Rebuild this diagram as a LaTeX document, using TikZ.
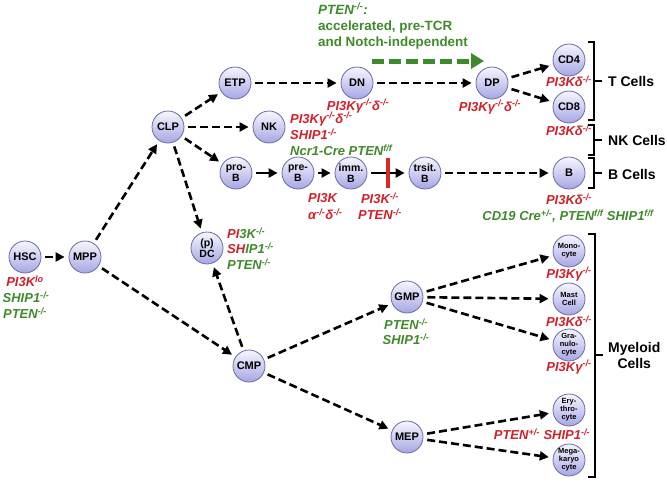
\documentclass[tikz,border=0pt]{standalone}
\usepackage{fontspec}
\setmainfont{Liberation Sans}
\usetikzlibrary{positioning, arrows.meta}

\definecolor{kored}{HTML}{D0202A}
\definecolor{kogreen}{HTML}{3F8A2A}
\definecolor{cellrim}{HTML}{6A6AA6}
\definecolor{celltop}{HTML}{F6F6FF}
\definecolor{cellbot}{HTML}{A6A6E4}

\newcommand{\ko}{\textsuperscript{-/-}}
\newcommand{\fsz}[1]{\fontsize{#1}{#1}\selectfont}

\tikzset{
  cell/.style={circle, draw=cellrim, line width=0.8pt, top color=celltop, bottom color=cellbot,
    minimum size=32pt, inner sep=0pt, font=\fsz{11}\bfseries, align=center},
  twoline/.style={cell, font=\fontsize{10.5}{10.5}\selectfont\bfseries},
  smallcell/.style={cell, font=\fontsize{7.5}{8}\selectfont\bfseries},
  redlab/.style={text=kored, font=\fontsize{13}{15}\selectfont\bfseries\itshape, inner sep=0pt, align=center},
  greenlab/.style={redlab, text=kogreen},
  flow/.style={-{Triangle[length=9pt,width=9pt]}, line width=2.6pt, dash pattern=on 8pt off 4pt,
    shorten <=4pt, shorten >=4pt},
  flowsolid/.style={flow, solid},
  groupline/.style={line width=1.8pt},
  celltype/.style={font=\fontsize{14}{16}\selectfont\bfseries, anchor=west, align=center, inner sep=0pt},
}

\begin{document}
\begin{tikzpicture}[x=1pt, y=-1pt]
    \useasboundingbox (0,0) rectangle (667,482);

    % Define nodes
    \node[cell] (HSC) at (25,257) {HSC};
    \node[cell] (MPP) at (85,257) {MPP};
    \node[cell] (CLP) at (168,127) {CLP};
    \node[cell] (ETP) at (235,83) {ETP};
    \node[cell] (NK) at (269,127) {NK};
    \node[twoline] (proB) at (236,173) {pro-\\B};
    \node[twoline] (preB) at (298,173) {pre-\\B};
    \node[twoline] (immB) at (351,173) {imm.\\B};
    \node[twoline] (trsB) at (425,173) {trsit.\\B};
    \node[cell] (B) at (569,173) {B};
    \node[cell] (DN) at (357,83) {DN};
    \node[cell] (DP) at (492,83) {DP};
    \node[cell] (CD4) at (569,60) {CD4};
    \node[cell] (CD8) at (569,107) {CD8};
    \node[twoline] (DC) at (207,248) {(p)\\DC};
    \node[cell] (CMP) at (249,366) {CMP};
    \node[cell] (GMP) at (407,297) {GMP};
    \node[cell] (MEP) at (407,437) {MEP};
    \node[smallcell] (Mono) at (569,251) {Mono-\\cyte};
    \node[smallcell] (Mast) at (569,299) {Mast\\Cell};
    \node[smallcell] (Gran) at (569,345) {Gra-\\nulo-\\cyte};
    \node[smallcell] (Ery) at (569,410) {Ery-\\thro-\\cyte};
    \node[smallcell] (Mega) at (569,460) {Mega-\\karyo\\cyte};

    % Labels
    \node[redlab] (hscA) at (25,281) {PI3K\textsuperscript{lo}};
    \node[greenlab] (hscB) at (26,297) {SHIP1\ko};
    \node[greenlab] (hscC) at (25,313) {PTEN\ko};
    \node[redlab, anchor=west] (dcA) at (227,233) {PI\textcolor{kogreen}{3K\ko}};
    \node[redlab, anchor=west] (dcB) at (227,248) {SH\textcolor{kogreen}{IP1\ko}};
    \node[greenlab, anchor=west] (dcC) at (227,264) {PTEN\ko};
    \node[redlab] (dnA) at (358,106) {PI3Kγ\ko δ\ko};
    \node[redlab, anchor=west] (nkA) at (290,119) {PI3Kγ\ko δ\ko};
    \node[redlab, anchor=west] (nkB) at (290,134) {SHIP1\ko};
    \node[greenlab, anchor=west] (nkC) at (290,150) {Ncr1-Cre PTEN\textsuperscript{f/f}};
    \node[redlab] (dpA) at (490,107) {PI3Kγ\ko δ\ko};
    \node[redlab] (cdA) at (569,81) {PI3Kδ\ko};
    \node[redlab] (cdB) at (569,130) {PI3Kδ\ko};
    \node[redlab, anchor=west] (bA) at (308,198) {PI3K};
    \node[redlab, anchor=west] (bB) at (308,214) {α\ko δ\ko};
    \node[redlab] (blkA) at (380,198) {PI3K\ko};
    \node[redlab] (blkB) at (380,214) {PTEN\ko};
    \node[redlab] (bcA) at (569,199) {PI3Kδ\ko};
    \node[greenlab] (bcB) at (568,216) {CD19 Cre\textsuperscript{+/-}, PTEN\textsuperscript{f/f} SHIP1\textsuperscript{f/f}};
    \node[greenlab] (gmpA) at (406,324) {PTEN\ko};
    \node[greenlab] (gmpB) at (406,339) {SHIP1\ko};
    \node[redlab] (monoA) at (569,274) {PI3Kγ\ko};
    \node[redlab] (mastA) at (569,321) {PI3Kδ\ko};
    \node[redlab] (granA) at (569,367) {PI3Kγ\ko};
    \node[redlab] (mepA) at (542,434) {PTEN\textsuperscript{+/-} SHIP1\ko};
    \node[anchor=west, align=left, inner sep=0pt, text=kogreen,
      font=\fontsize{13.4}{16}\selectfont\bfseries] (tcr) at (318,26)
      {\itshape PTEN\ko:\\accelerated, pre-TCR\\and Notch-independent};

    % Draw arrows
    \draw[flow] (HSC) -- (MPP);
    \draw[flow] (MPP) -- (CLP);
    \draw[flow] (MPP) -- (CMP);
    \draw[flow] (CLP) -- (ETP);
    \draw[flow] (CLP) -- (NK);
    \draw[flow] (CLP) -- (proB);
    \draw[flow] (CLP) -- (DC);
    \draw[flow] (CMP) -- (DC);
    \draw[flow] (ETP) -- (DN);
    \draw[flow] (DN) -- (DP);
    \draw[flow] (DP) -- (CD4);
    \draw[flow] (DP) -- (CD8);
    \draw[flowsolid] (proB) -- (preB);
    \draw[flowsolid] (preB) -- (immB);
    \draw[flowsolid] (immB) -- node[fill=kored!90!orange, minimum width=4pt, minimum height=30pt,
      inner sep=0pt] (block) {} (trsB);
    \draw[flow] (trsB) -- (B);
    \draw[flow] (CMP) -- (GMP);
    \draw[flow] (CMP) -- (MEP);
    \draw[flow] (GMP) -- (Mono);
    \draw[flow] (GMP) -- (Mast);
    \draw[flow] (GMP) -- (Gran);
    \draw[flow] (MEP) -- (Ery);
    \draw[flow] (MEP) -- (Mega);

    % PTEN shortcut
    \coordinate (gA) at (372,61);
    \coordinate (gB) at (484,61);
    \draw[kogreen, line width=5pt, dash pattern=on 12pt off 5pt,
      -{Triangle[length=13pt,width=15pt]}] (gA) -- (gB);

    % Cell groups
    \draw[groupline] (588,42) -- (594,42) -- (594,120) -- (588,120) (594,81) -- (602,81);
    \draw[groupline] (588,125) -- (594,125) -- (594,155) -- (588,155) (594,140) -- (602,140);
    \draw[groupline] (588,158) -- (594,158) -- (594,188) -- (588,188) (594,173) -- (602,173);
    \draw[groupline] (588,234) -- (595,234) -- (595,477) -- (588,477) (595,355) -- (603,355);
    \node[celltype] (tcell) at (608,81) {T Cells};
    \node[celltype] (nkcell) at (608,140) {NK Cells};
    \node[celltype] (bcell) at (608,174) {B Cells};
    \node[celltype] (mycell) at (608,355) {Myeloid\\Cells};
\end{tikzpicture}
\end{document}
